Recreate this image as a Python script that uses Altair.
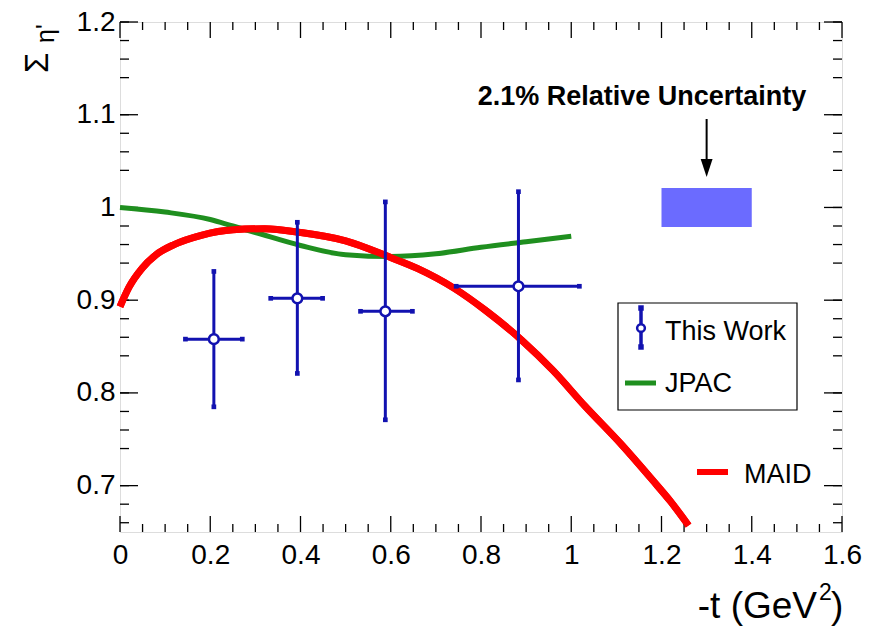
import altair as alt
import pandas as pd

# ---------------- data ----------------
# This Work (points with errors)
t_pts   = [0.208, 0.393, 0.588, 0.883]
t_lo    = [0.145, 0.334, 0.533, 0.745]
t_hi    = [0.271, 0.449, 0.648, 1.018]
sig_pts = [0.858, 0.902, 0.888, 0.915]
sig_lo  = [0.785, 0.821, 0.771, 0.814]
sig_hi  = [0.931, 0.984, 1.006, 1.017]

# JPAC curve
jpac_t   = [0.0, 0.1, 0.2, 0.25, 0.3, 0.4, 0.5, 0.6, 0.7, 0.8, 0.9, 1.0]
jpac_sig = [1.0, 0.995, 0.987, 0.980, 0.973, 0.959, 0.949, 0.947, 0.950, 0.957, 0.963, 0.969]

# MAID curve
maid_t   = [0.0, 0.02, 0.05, 0.08, 0.12, 0.18, 0.25, 0.32, 0.4, 0.5, 0.6, 0.66,
            0.74, 0.81, 0.89, 0.96, 1.03, 1.11, 1.18, 1.22, 1.26]
maid_sig = [0.893, 0.914, 0.935, 0.949, 0.960, 0.970, 0.976, 0.977, 0.973, 0.964, 0.946, 0.934,
            0.913, 0.889, 0.857, 0.824, 0.786, 0.745, 0.706, 0.683, 0.657]

# relative uncertainty box
unc_t    = [1.2, 1.4]
unc_rel  = 0.021
unc_text = "2.1% Relative Uncertainty"

x_major = [0.0, 0.2, 0.4, 0.6, 0.8, 1.0, 1.2, 1.4, 1.6]
y_major = [0.7, 0.8, 0.9, 1.0, 1.1, 1.2]
x_minor = [round(0.05 * i, 2) for i in range(33) if i % 4 != 0]
y_minor = [round(0.66 + 0.02 * i, 2) for i in range(28) if (i + 2) % 5 != 0]

# ---------------- style ----------------
W, H = 722, 510
FONT = "Liberation Sans"
BLUE = "#1212b0"
GREEN = "#1f8f1f"
RED = "#ff0000"
BOX = "#6b6bff"

xs = alt.Scale(domain=[0, 1.6], nice=False, zero=False)
ys = alt.Scale(domain=[0.65, 1.2], nice=False, zero=False)

x_axis = alt.Axis(values=x_major, format=".1~f", title=None, grid=False, ticks=False,
                  domain=False, labelFontSize=28, labelFont=FONT, labelColor="black",
                  labelPadding=9, labelFlush=False, labelOverlap=False)
y_axis = alt.Axis(values=y_major, format=".1~f", title=None, grid=False, ticks=False,
                  domain=False, labelFontSize=28, labelFont=FONT, labelColor="black",
                  labelPadding=5, labelFlush=False, labelOverlap=False)

maid_df = pd.DataFrame({"t": maid_t, "s": maid_sig})
jpac_df = pd.DataFrame({"t": jpac_t, "s": jpac_sig})
pts_df = pd.DataFrame({"t": t_pts, "tlo": t_lo, "thi": t_hi,
                       "s": sig_pts, "slo": sig_lo, "shi": sig_hi})
ends_df = pd.concat([
    pd.DataFrame({"t": t_pts, "s": sig_lo}),
    pd.DataFrame({"t": t_pts, "s": sig_hi}),
    pd.DataFrame({"t": t_lo, "s": sig_pts}),
    pd.DataFrame({"t": t_hi, "s": sig_pts}),
])

maid = alt.Chart(maid_df).mark_line(color=RED, strokeWidth=7, interpolate="monotone").encode(
    x=alt.X("t:Q", scale=xs, axis=x_axis),
    y=alt.Y("s:Q", scale=ys, axis=y_axis),
)
jpac = alt.Chart(jpac_df).mark_line(color=GREEN, strokeWidth=5, interpolate="monotone").encode(
    x=alt.X("t:Q", scale=xs), y=alt.Y("s:Q", scale=ys))

vbar = alt.Chart(pts_df).mark_rule(color=BLUE, strokeWidth=3).encode(
    x=alt.X("t:Q", scale=xs), y=alt.Y("slo:Q", scale=ys), y2="shi:Q")
hbar = alt.Chart(pts_df).mark_rule(color=BLUE, strokeWidth=3).encode(
    x=alt.X("tlo:Q", scale=xs), x2="thi:Q", y=alt.Y("s:Q", scale=ys))
caps = alt.Chart(ends_df).mark_square(color=BLUE, size=22, opacity=1).encode(
    x=alt.X("t:Q", scale=xs), y=alt.Y("s:Q", scale=ys))
circ = alt.Chart(pts_df).mark_point(shape="circle", filled=True, fill="white", stroke=BLUE,
                                    strokeWidth=2.5, size=95, opacity=1).encode(
    x=alt.X("t:Q", scale=xs), y=alt.Y("s:Q", scale=ys))

unc_df = pd.DataFrame({"t0": [unc_t[0]], "t1": [unc_t[1]],
                       "s0": [1 - unc_rel], "s1": [1 + unc_rel],
                       "tc": [(unc_t[0] + unc_t[1]) / 2]})
unc_box = alt.Chart(unc_df).mark_rect(color=BOX).encode(
    x=alt.X("t0:Q", scale=xs), x2="t1:Q", y=alt.Y("s0:Q", scale=ys), y2="s1:Q")
arrow = alt.Chart(unc_df).mark_rule(color="black", strokeWidth=2).encode(
    x=alt.X("tc:Q", scale=xs), y=alt.value(119 - 22), y2=alt.value(160 - 22))
arrow_head = alt.Chart(unc_df).mark_point(
    shape="M-0.66,-1L0.66,-1L0,1Z", filled=True, color="black", size=324, opacity=1
).encode(x=alt.X("tc:Q", scale=xs), y=alt.value(168 - 22))
unc_label = alt.Chart(unc_df).mark_text(text=unc_text, font=FONT, fontWeight="bold", fontSize=27,
                                        align="center", baseline="alphabetic", color="black").encode(
    x=alt.value(642 - 120), y=alt.value(105 - 22))

# ----- frame ticks (ROOT style, inside) -----
def tick_layer(vals, channel, length, side):
    df = pd.DataFrame({"v": vals})
    base = alt.Chart(df).mark_rule(color="black", strokeWidth=1.3)
    if channel == "x":
        if side == "bottom":
            return base.encode(x=alt.X("v:Q", scale=xs), y=alt.value(H), y2=alt.value(H - length))
        return base.encode(x=alt.X("v:Q", scale=xs), y=alt.value(0), y2=alt.value(length))
    if side == "left":
        return base.encode(y=alt.Y("v:Q", scale=ys), x=alt.value(0), x2=alt.value(length))
    return base.encode(y=alt.Y("v:Q", scale=ys), x=alt.value(W), x2=alt.value(W - length))

ticks = [
    tick_layer(x_major, "x", 16, "bottom"), tick_layer(x_minor, "x", 8, "bottom"),
    tick_layer(x_major, "x", 16, "top"), tick_layer(x_minor, "x", 8, "top"),
    tick_layer(y_major, "y", 18, "left"), tick_layer(y_minor, "y", 9, "left"),
    tick_layer(y_major, "y", 18, "right"), tick_layer(y_minor, "y", 9, "right"),
]

# ----- legend -----
one = pd.DataFrame({"a": [0]})
leg_box = alt.Chart(one).mark_rect(fill="white", stroke="black", strokeWidth=1.2).encode(
    x=alt.value(498), x2=alt.value(677), y=alt.value(281), y2=alt.value(388))
leg_vbar = alt.Chart(one).mark_rule(color=BLUE, strokeWidth=3.5).encode(
    x=alt.value(521), y=alt.value(286), y2=alt.value(325))
leg_caps = alt.Chart(pd.DataFrame({"yy": [286, 325]})).mark_square(color=BLUE, size=30, opacity=1).encode(
    x=alt.value(521), y=alt.Y("yy:Q", scale=None))
leg_circ = alt.Chart(one).mark_point(shape="circle", filled=True, fill="white", stroke=BLUE,
                                     strokeWidth=2.5, size=60, opacity=1).encode(
    x=alt.value(521), y=alt.value(306))
leg_green = alt.Chart(one).mark_rule(color=GREEN, strokeWidth=5).encode(
    x=alt.value(505), x2=alt.value(536), y=alt.value(361))
leg_red = alt.Chart(one).mark_rule(color=RED, strokeWidth=6).encode(
    x=alt.value(577), x2=alt.value(608), y=alt.value(450))
def label(txt, x, y, size=27, align="left"):
    return alt.Chart(one).mark_text(text=txt, font=FONT, fontSize=size, align=align,
                                    baseline="alphabetic", color="black").encode(
        x=alt.value(x), y=alt.value(y))
leg_t1 = label("This Work", 545, 318)
leg_t2 = label("JPAC", 545, 370)
leg_t3 = label("MAID", 624, 461)

# ----- axis titles -----
xt1 = label("-t (GeV", 697, 596, size=37, align="right")
xt2 = label("2", 699, 578, size=23)
xt3 = label(")", 711, 596, size=37)
yt1 = alt.Chart(one).mark_text(text="Σ", font=FONT, fontSize=33, angle=270, align="left",
                               baseline="alphabetic", color="black").encode(
    x=alt.value(48 - 120), y=alt.value(73 - 22))
yt2 = alt.Chart(one).mark_text(text="η'", font=FONT, fontSize=25, angle=270, align="left",
                               baseline="alphabetic", color="black").encode(
    x=alt.value(54 - 120), y=alt.value(43 - 22))

chart = alt.layer(
    maid, *ticks, unc_box, arrow, arrow_head, unc_label,
    jpac, maid.encode(x=alt.X("t:Q", scale=xs), y=alt.Y("s:Q", scale=ys)),
    hbar, vbar, caps, circ,
    leg_box, leg_vbar, leg_caps, leg_circ, leg_green, leg_red, leg_t1, leg_t2, leg_t3,
    xt1, xt2, xt3, yt1, yt2,
).properties(
    width=W, height=H,
    autosize=alt.AutoSizeParams(type="none"),
    padding={"left": 120, "top": 22, "right": 35, "bottom": 98},
).configure_view(stroke="black", strokeWidth=1.5).configure(background="white")

chart.save("out.html", embed_options={"renderer": "svg", "actions": False})
